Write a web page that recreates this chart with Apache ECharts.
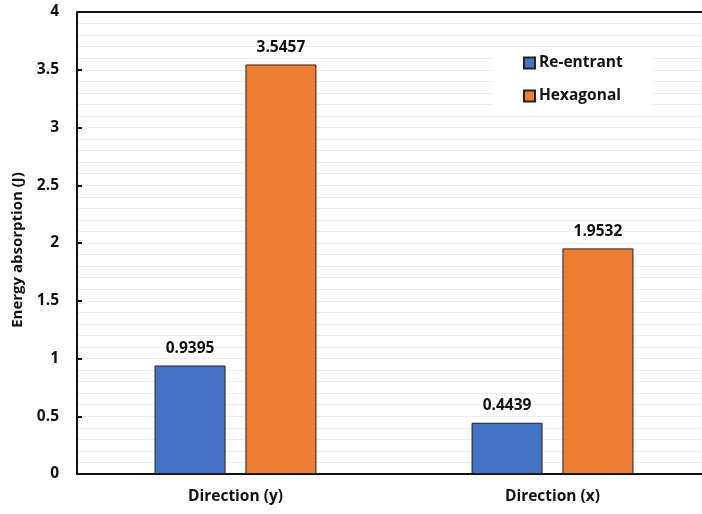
<!DOCTYPE html>
<html><head><meta charset="utf-8">
<script src="https://cdn.jsdelivr.net/npm/echarts@6/dist/echarts.min.js"></script>
<style>html,body{margin:0;padding:0;background:#fff;overflow:hidden}#c{width:720px;height:514px}</style>
</head><body><div id="c"></div>
<script>
const categories = ['Direction (y)', 'Direction (x)'];
const reEntrant = [0.9395, 0.4439];
const hexagonal = [3.5457, 1.9532];
const seriesNames = ['Re-entrant', 'Hexagonal'];
const yTicks = ['0', '0.5', '1', '1.5', '2', '2.5', '3', '3.5', '4'];

const FONT = '"Open Sans", "Noto Sans", sans-serif';
const chart = echarts.init(document.getElementById('c'));
const lbl = {show: true, position: 'top', distance: 9, fontFamily: FONT, fontWeight: 'bold', fontSize: 15.5, color: '#111',
  formatter: p => p.value.toFixed(4)};
chart.setOption({
  animation: false,
  textStyle: {fontFamily: FONT},
  grid: {left: 77, right: 9, top: 12, bottom: 40, containLabel: false},
  legend: {
    data: seriesNames, orient: 'vertical', left: 493, top: 49, itemGap: 17,
    itemWidth: 11, itemHeight: 11, icon: 'rect',
    backgroundColor: '#fff', padding: [6, 30, 3, 30],
    textStyle: {fontFamily: FONT, fontWeight: 'bold', fontSize: 15.5, color: '#111', padding: [0, 0, 0, -1]}
  },
  xAxis: {
    type: 'category', data: categories,
    axisLine: {lineStyle: {color: '#111', width: 2}},
    axisTick: {show: false},
    axisLabel: {fontFamily: FONT, fontWeight: 'bold', fontSize: 15.5, color: '#111', margin: 15}
  },
  yAxis: {
    type: 'value', min: 0, max: 4, interval: 0.5,
    name: 'Energy absorption (J)', nameLocation: 'middle', nameGap: 52, nameRotate: 90,
    nameTextStyle: {fontFamily: FONT, fontWeight: 'bold', fontSize: 15, color: '#111', padding: [0, 14, 0, 0]},
    axisLine: {show: true, lineStyle: {color: '#111', width: 2}},
    axisTick: {show: true, inside: true, length: 5, lineStyle: {color: '#111', width: 2}},
    axisLabel: {fontFamily: FONT, fontWeight: 'bold', fontSize: 15.5, color: '#111', margin: 18,
      formatter: v => yTicks[Math.round(v * 2)]},
    splitLine: {show: true, lineStyle: {color: '#eeeeee', width: 1}},
    minorTick: {show: true, splitNumber: 5, length: 0},
    minorSplitLine: {show: true, lineStyle: {color: '#eeeeee', width: 1}}
  },
  graphic: [{type: 'line', shape: {x1: 77, y1: 12, x2: 720, y2: 12}, style: {stroke: '#111', lineWidth: 2}, z: 10}],
  series: [
    {name: seriesNames[0], type: 'bar', data: reEntrant, barWidth: 71, barGap: '28%',
      itemStyle: {color: '#4472C4', borderColor: '#222', borderWidth: 1}, label: lbl},
    {name: seriesNames[1], type: 'bar', data: hexagonal, barWidth: 71,
      itemStyle: {color: '#ED7D31', borderColor: '#222', borderWidth: 1}, label: lbl}
  ]
});
</script></body></html>
